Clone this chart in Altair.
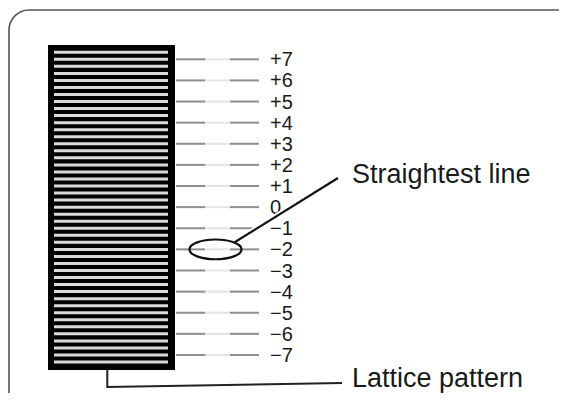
import altair as alt
import pandas as pd

# ---- data ----
scale_values = [7, 6, 5, 4, 3, 2, 1, 0, -1, -2, -3, -4, -5, -6, -7]
scale_labels = ["+7", "+6", "+5", "+4", "+3", "+2", "+1", "0",
                "\u22121", "\u22122", "\u22123", "\u22124", "\u22125", "\u22126", "\u22127"]
stripes_per_unit = 3
stripe_count = 45
highlighted_value = -2
annotation_texts = ["Straightest line", "Lattice pattern"]

# ---- layout helpers (screen px -> scale units) ----
PX_TOP = 59.3      # screen y of the +7 line
PX_UNIT = 21.12    # px per scale unit
W, H = 551, 385


def v(py):
    return scale_values[0] - (py - PX_TOP) / PX_UNIT


FONT = "Liberation Sans, Arial, Helvetica, sans-serif"
xs = alt.Scale(domain=[8, 8 + W], nice=False, zero=False)
ys = alt.Scale(domain=[v(8 + H), v(8)], nice=False, zero=False)


def X(f="x"):
    return alt.X(f"{f}:Q", scale=xs, axis=None)


def Y(f="y"):
    return alt.Y(f"{f}:Q", scale=ys, axis=None)


# frame
frame_df = pd.DataFrame({"x": [9], "x2": [578], "y": [v(10)], "y2": [v(412)]})
frame = alt.Chart(frame_df).mark_rect(
    cornerRadius=20, fillOpacity=0, stroke="#555555", strokeWidth=1.6
).encode(x=X(), x2="x2:Q", y=Y(), y2="y2:Q")

# black lattice block
block_df = pd.DataFrame({"x": [48], "x2": [175], "y": [v(45)], "y2": [v(370)]})
block = alt.Chart(block_df).mark_rect(fill="black").encode(
    x=X(), x2="x2:Q", y=Y(), y2="y2:Q")

# stripes
top_stripe = scale_values[0] + 1 / stripes_per_unit
stripe_df = pd.DataFrame({
    "y": [top_stripe - k / stripes_per_unit for k in range(stripe_count)],
    "x": 54, "x2": 168,
})
stripes = alt.Chart(stripe_df).mark_rule(color="#dadada", strokeWidth=3).encode(
    x=X(), x2="x2:Q", y=Y())

# scale lines
dark_rows = []
faint_rows = []
for val in scale_values:
    dark_rows.append({"x": 176, "x2": 205, "y": val})
    dark_rows.append({"x": 230, "x2": 259, "y": val})
    faint_rows.append({"x": 205, "x2": 230, "y": val})
dark = alt.Chart(pd.DataFrame(dark_rows)).mark_rule(color="#8e8e8e", strokeWidth=2).encode(
    x=X(), x2="x2:Q", y=Y())
faint = alt.Chart(pd.DataFrame(faint_rows)).mark_rule(color="#e4e4e4", strokeWidth=2).encode(
    x=X(), x2="x2:Q", y=Y())

labels_df = pd.DataFrame({"y": scale_values, "label": scale_labels, "x": 270})
labels = alt.Chart(labels_df).mark_text(
    align="left", baseline="middle", font=FONT, fontSize=20, color="#1a1a1a", dy=1
).encode(x=X(), y=Y(), text="label:N")

# ellipse around the straightest line
ELLIPSE = "M -1 0 A 1 0.38 0 1 0 1 0 A 1 0.38 0 1 0 -1 0 Z"
ell_df = pd.DataFrame({"x": [215.5], "y": [highlighted_value]})
ellipse = alt.Chart(ell_df).mark_point(
    shape=ELLIPSE, size=52 ** 2, filled=False, stroke="#111111", strokeWidth=2.2, opacity=1
).encode(x=X(), y=Y())

# leader for straightest line
lead_df = pd.DataFrame({"x": [235], "x2": [338], "y": [v(242)], "y2": [v(178)]})
lead_halo = alt.Chart(lead_df).mark_rule(color="white", strokeWidth=6).encode(
    x=X(), x2="x2:Q", y=Y(), y2="y2:Q")
lead = alt.Chart(lead_df).mark_rule(color="#111111", strokeWidth=2.2).encode(
    x=X(), x2="x2:Q", y=Y(), y2="y2:Q")

# leader for lattice pattern
lat_df = pd.DataFrame({"x": [107.3, 107.3, 342], "y": [v(370), v(387), v(383)], "o": [0, 1, 2]})
lat = alt.Chart(lat_df).mark_line(color="#222222", strokeWidth=2).encode(
    x=X(), y=Y(), order="o:Q")

text_df = pd.DataFrame({"x": [352, 352], "y": [v(182.5), v(386.5)], "t": annotation_texts})
texts = alt.Chart(text_df).mark_text(
    align="left", baseline="alphabetic", font=FONT, fontSize=27, color="#1a1a1a"
).encode(x=X(), y=Y(), text="t:N")

chart = alt.layer(
    frame, block, stripes, faint, dark, labels, lead_halo, lead, ellipse, lat, texts
).properties(
    width=W, height=H,
    autosize=alt.AutoSizeParams(type="none"),
    padding=0, background="white",
).configure_view(stroke=None)

chart.save("out.html", embed_options={"renderer": "svg", "actions": False})
